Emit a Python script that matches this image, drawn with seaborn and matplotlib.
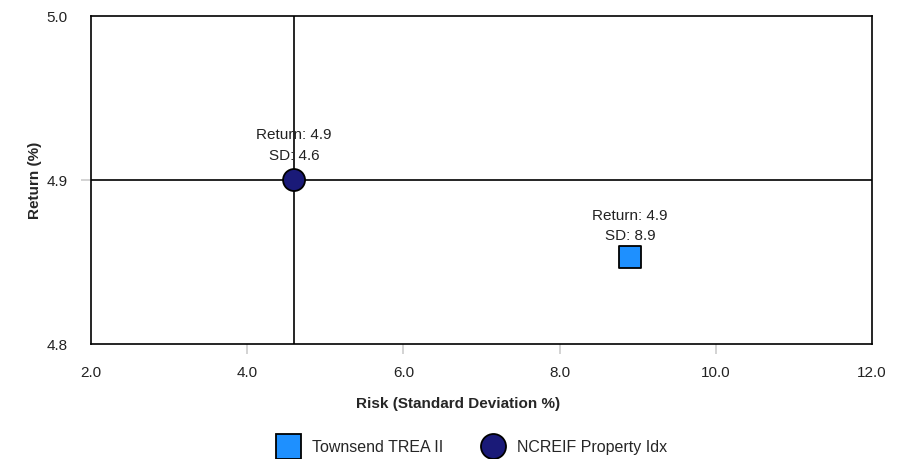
import numpy as np
import pandas as pd
import matplotlib.pyplot as plt
import seaborn as sns

# ----------------------------------------
# Data
# ----------------------------------------

names = ["Townsend TREA II", "NCREIF Property Idx"]
risk = [8.9, 4.6]
ret = [4.853, 4.9]
colors = ["#1E90FF", "#1A1A78"]
markers = ["s", "o"]

x_ticks = [2.0, 4.0, 6.0, 8.0, 10.0, 12.0]
y_ticks = [4.8, 4.9, 5.0]

df = pd.DataFrame({"name": names, "risk": risk, "ret": ret})

# ----------------------------------------
# Plot
# ----------------------------------------

sns.set_style("white")
plt.rcParams["font.family"] = ["Liberation Sans", "DejaVu Sans"]

fig = plt.figure(figsize=(9.02, 4.59), dpi=100)
ax = fig.add_axes([0.1009, 0.2505, 0.8658, 0.7146])

# benchmark crosshair
ax.axvline(risk[1], color="black", lw=1.2, zorder=1)
ax.axhline(ret[1], color="black", lw=1.2, zorder=1)

sns.scatterplot(
    data=df, x="risk", y="ret", hue="name", style="name",
    palette=dict(zip(names, colors)),
    markers=dict(zip(names, markers)),
    s=250, edgecolor="black", linewidth=1.3,
    ax=ax, zorder=3, legend=False
)

# label offsets (points above marker) differ a bit per marker shape
offsets = {"s": (15.5, 29.5), "o": (17, 32.5)}
for x, y, m in zip(risk, ret, markers):
    lo, hi = offsets[m]
    ax.annotate(f"SD: {x:.1f}", (x, y), xytext=(0, lo),
                textcoords="offset points", ha="center", va="center",
                fontsize=11, color="#222222")
    ax.annotate(f"Return: {y:.1f}", (x, y), xytext=(0, hi),
                textcoords="offset points", ha="center", va="center",
                fontsize=11, color="#222222")

ax.set_xlim(2, 12)
ax.set_ylim(4.8, 5.0)
ax.set_xticks(x_ticks)
ax.set_xticklabels([f"{v:.1f}" for v in x_ticks])
ax.set_yticks(y_ticks)
ax.set_yticklabels([f"{v:.1f}" for v in y_ticks])
ax.tick_params(axis="both", labelsize=11, labelcolor="#222222",
               color="#cccccc", width=1.2, length=7, direction="out",
               bottom=True, left=True)
ax.tick_params(axis="x", pad=9)
ax.tick_params(axis="y", pad=10)

# no tick marks at the frame corners
for axis in (ax.xaxis, ax.yaxis):
    ticks = axis.get_major_ticks()
    for t in (ticks[0], ticks[-1]):
        t.tick1line.set_visible(False)

ax.set_xlabel("Risk (Standard Deviation %)", fontsize=11, fontweight="bold")
ax.set_ylabel("Return (%)", fontsize=11, fontweight="bold")
ax.xaxis.set_label_coords(0.47, -0.182)
ax.xaxis.label.set_va("center")
ax.yaxis.set_label_coords(-0.072, 0.5)
ax.yaxis.label.set_va("center")

for sp in ax.spines.values():
    sp.set_color("black")
    sp.set_linewidth(1.2)

# legend
handles = [
    plt.Line2D([], [], marker=m, color="none", markerfacecolor=c,
               markeredgecolor="black", markersize=18, markeredgewidth=1.3)
    for m, c in zip(markers, colors)
]
fig.legend(handles, names, loc="center", bbox_to_anchor=(0.522, 0.026),
           ncol=2, frameon=False, fontsize=11.5, columnspacing=2.3,
           handlelength=1.6, handletextpad=0.7, borderpad=0)

fig.savefig("out.png", dpi=100)
